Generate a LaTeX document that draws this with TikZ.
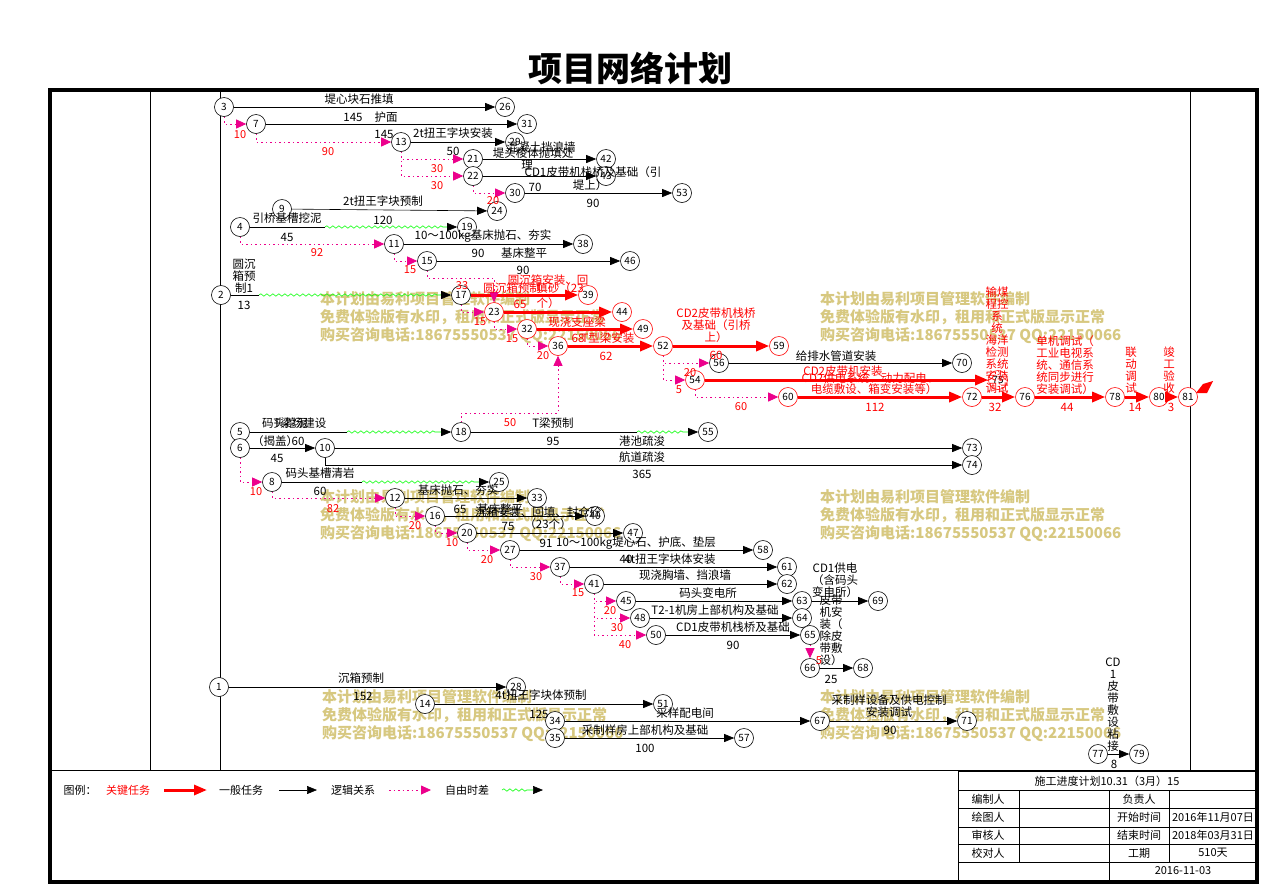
\documentclass[tikz,border=0pt]{standalone}
\usepackage{fontspec}
\setmainfont{Noto Sans CJK SC}
\usetikzlibrary{arrows.meta}
\usetikzlibrary{decorations.pathmorphing}
\definecolor{wmcol}{RGB}{215,200,128}

\begin{document}
\begin{tikzpicture}[x=1pt,y=-1pt,
					evnode/.style={circle, draw=black, line width=0.6pt, fill=white, inner sep=0pt, minimum size=19pt, font=\fontsize{10}{10}\selectfont},
					crnode/.style={evnode, draw=red},
					lbl/.style={inner sep=0pt, align=center, font=\fontsize{11.5}{12}\selectfont},
					rlbl/.style={lbl, text=red},
					flt/.style={inner sep=0pt, text=red, font=\fontsize{11}{12}\selectfont},
					wmark/.style={inner sep=0pt, anchor=north west, align=left, text=wmcol, font=\fontsize{15}{18}\selectfont\bfseries},
					cell/.style={inner sep=0pt, font=\fontsize{11}{12}\selectfont},
					taskline/.style={draw=black, line width=0.6pt, -{Triangle[length=10pt,width=8pt]}},
					critline/.style={draw=red, line width=3pt, -{Triangle[length=13pt,width=10pt]}},
					logicline/.style={draw=magenta, line width=0.8pt, dash pattern=on 1.5pt off 3pt, -{Triangle[length=10pt,width=9pt,color=magenta]}},
					floatline/.style={draw=green, line width=0.6pt, decorate, decoration={snake, amplitude=1.2pt, segment length=6pt, post length=14pt}, -{Triangle[length=10pt,width=8pt,color=black]}},
					]
					\fill[white] (0,0) rectangle (1263,887);
					\useasboundingbox (0,0) rectangle (1263,887);

					%Title and frame
					\node[font=\fontsize{34}{36}\selectfont\bfseries] (title) at (630,68) {项目网络计划};
					\draw[line width=0.8pt] (150,90) -- (150,770);
					\draw[line width=0.8pt] (220,90) -- (220,770);
					\draw[line width=0.8pt] (1190,90) -- (1190,770);
					\draw[line width=0.8pt] (50,770) -- (1257,770);
					\draw[line width=4pt] (50,90) rectangle (1257,882);

					%Watermarks
					\foreach \wx/\wy [count=\i] in {320/291, 820/291, 320/489, 820/489, 322/689, 820/689}
						\node[wmark] (wm\i) at (\wx,\wy) {本计划由易利项目管理软件编制\\免费体验版有水印，租用和正式版显示正常\\购买咨询电话:18675550537 QQ:22150066};

					%Nodes
					\node[evnode] (n3)  at (224,107) {3};
					\node[evnode] (n26) at (505,107) {26};
					\node[evnode] (n7)  at (256,124) {7};
					\node[evnode] (n31) at (527,124) {31};
					\node[evnode] (n13) at (401,142) {13};
					\node[evnode] (n29) at (515,142) {29};
					\node[evnode] (n21) at (473,159) {21};
					\node[evnode] (n42) at (606,159) {42};
					\node[evnode] (n22) at (473,176) {22};
					\node[evnode] (n43) at (606,176) {43};
					\node[evnode] (n30) at (515,193) {30};
					\node[evnode] (n53) at (682,193) {53};
					\node[evnode] (n9)  at (282,209) {9};
					\node[evnode] (n24) at (497,211) {24};
					\node[evnode] (n4)  at (240,227) {4};
					\node[evnode] (n19) at (467,227) {19};
					\node[evnode] (n11) at (394,244) {11};
					\node[evnode] (n38) at (583,244) {38};
					\node[evnode] (n15) at (427,261) {15};
					\node[evnode] (n46) at (630,261) {46};
					\node[evnode] (n2)  at (221,295) {2};
					\node[evnode] (n17) at (461,295) {17};
					\node[crnode] (n39) at (588,295) {39};
					\node[crnode] (n23) at (494,312) {23};
					\node[crnode] (n44) at (622,312) {44};
					\node[crnode] (n32) at (527,329) {32};
					\node[crnode] (n49) at (643,329) {49};
					\node[crnode] (n36) at (558,346) {36};
					\node[crnode] (n52) at (663,346) {52};
					\node[crnode] (n59) at (779,346) {59};
					\node[evnode] (n56) at (719,363) {56};
					\node[evnode] (n70) at (962,363) {70};
					\node[crnode] (n54) at (695,380) {54};
					\node[crnode] (n75) at (998,380) {75};
					\node[crnode] (n60) at (788,397) {60};
					\node[crnode] (n72) at (972,397) {72};
					\node[crnode] (n76) at (1025,397) {76};
					\node[crnode] (n78) at (1115,397) {78};
					\node[crnode] (n80) at (1159,397) {80};
					\fill[red] (1196,393) -- (1203,384) -- (1213,381) -- (1207,393) -- cycle;
					\node[crnode] (n81) at (1188,397) {81};
					\node[evnode] (n5)  at (240,432) {5};
					\node[evnode] (n18) at (461,432) {18};
					\node[evnode] (n55) at (708,432) {55};
					\node[evnode] (n6)  at (240,448) {6};
					\node[evnode] (n10) at (325,448) {10};
					\node[evnode] (n73) at (972,448) {73};
					\node[evnode] (n74) at (972,465) {74};
					\node[evnode] (n8)  at (272,482) {8};
					\node[evnode] (n25) at (499,482) {25};
					\node[evnode] (n12) at (395,498) {12};
					\node[evnode] (n33) at (537,498) {33};
					\node[evnode] (n16) at (435,516) {16};
					\node[evnode] (n40) at (595,516) {40};
					\node[evnode] (n20) at (467,533) {20};
					\node[evnode] (n47) at (633,533) {47};
					\node[evnode] (n27) at (510,550) {27};
					\node[evnode] (n58) at (763,550) {58};
					\node[evnode] (n37) at (560,567) {37};
					\node[evnode] (n61) at (787,567) {61};
					\node[evnode] (n41) at (594,584) {41};
					\node[evnode] (n62) at (787,584) {62};
					\node[evnode] (n45) at (626,601) {45};
					\node[evnode] (n63) at (802,601) {63};
					\node[evnode] (n69) at (878,601) {69};
					\node[evnode] (n48) at (640,618) {48};
					\node[evnode] (n64) at (802,618) {64};
					\node[evnode] (n50) at (656,635) {50};
					\node[evnode] (n65) at (810,635) {65};
					\node[evnode] (n66) at (810,668) {66};
					\node[evnode] (n68) at (863,668) {68};
					\node[evnode] (n1)  at (219,687) {1};
					\node[evnode] (n28) at (516,687) {28};
					\node[evnode] (n14) at (425,704) {14};
					\node[evnode] (n51) at (663,704) {51};
					\node[evnode] (n34) at (555,721) {34};
					\node[evnode] (n67) at (820,721) {67};
					\node[evnode] (n71) at (967,721) {71};
					\node[evnode] (n35) at (555,738) {35};
					\node[evnode] (n57) at (744,738) {57};
					\node[evnode] (n77) at (1098,754) {77};
					\node[evnode] (n79) at (1139,754) {79};

					%Bend points
					\coordinate (w2)  at (259,295);
					\coordinate (w4)  at (325,227);
					\coordinate (w5)  at (347,432);
					\coordinate (w18) at (637,432);
					\coordinate (w8)  at (362,482);
					\coordinate (b15) at (494,278);
					\coordinate (b18) at (558,413);

					%Lines
					\draw[taskline] (n3) -- (n26);
					\draw[taskline] (n7) -- (n31);
					\draw[taskline] (n13) -- (n29);
					\draw[taskline] (n21) -- (n42);
					\draw[taskline] (n22) -- (n43);
					\draw[taskline] (n30) -- (n53);
					\draw[taskline] (n9) -- (n24);
					\draw[taskline,-] (n4) -- (w4);
					\draw[floatline] (w4) -- (n19);
					\draw[taskline] (n11) -- (n38);
					\draw[taskline] (n15) -- (n46);
					\draw[taskline,-] (n2) -- (w2);
					\draw[floatline] (w2) -- (n17);
					\draw[critline] (n17) -- (n39);
					\draw[critline] (n23) -- (n44);
					\draw[critline] (n32) -- (n49);
					\draw[critline] (n36) -- (n52);
					\draw[critline] (n52) -- (n59);
					\draw[taskline] (n56) -- (n70);
					\draw[critline] (n54) -- (n75);
					\draw[critline] (n60) -- (n72);
					\draw[critline] (n72) -- (n76);
					\draw[critline] (n76) -- (n78);
					\draw[critline] (n78) -- (n80);
					\draw[critline] (n80) -- (n81);
					\draw[taskline,-] (n5) -- (w5);
					\draw[floatline] (w5) -- (n18);
					\draw[taskline,-] (n18) -- (w18);
					\draw[floatline] (w18) -- (n55);
					\draw[taskline] (n6) -- (n10);
					\draw[taskline] (n10) -- (n73);
					\draw[taskline] (n10) |- (n74);
					\draw[taskline,-] (n8) -- (w8);
					\draw[floatline] (w8) -- (n25);
					\draw[taskline] (n12) -- (n33);
					\draw[taskline] (n16) -- (n40);
					\draw[taskline] (n20) -- (n47);
					\draw[taskline] (n27) -- (n58);
					\draw[taskline] (n37) -- (n61);
					\draw[taskline] (n41) -- (n62);
					\draw[taskline] (n45) -- (n63);
					\draw[taskline] (n63) -- (n69);
					\draw[taskline] (n48) -- (n64);
					\draw[taskline] (n50) -- (n65);
					\draw[taskline] (n66) -- (n68);
					\draw[taskline] (n1) -- (n28);
					\draw[taskline] (n14) -- (n51);
					\draw[taskline] (n34) -- (n67);
					\draw[taskline] (n35) -- (n57);
					\draw[taskline] (n67) -- (n71);
					\draw[taskline] (n77) -- (n79);

					\draw[logicline] (n3) |- (n7);
					\draw[logicline] (n7) |- (n13);
					\draw[logicline] (n13) |- (n21);
					\draw[logicline] (n13) |- (n22);
					\draw[logicline] (n22) |- (n30);
					\draw[logicline] (n4) |- (n11);
					\draw[logicline] (n11) |- (n15);
					\draw[logicline] (n15) |- (b15) -- (n23);
					\draw[logicline] (n17) |- (n23);
					\draw[logicline] (n23) |- (n32);
					\draw[logicline] (n32) |- (n36);
					\draw[logicline] (n18) |- (b18) -- (n36);
					\draw[logicline] (n52) |- (n56);
					\draw[logicline] (n52) |- (n54);
					\draw[logicline] (n54) |- (n60);
					\draw[logicline] (n6) |- (n8);
					\draw[logicline] (n8) |- (n12);
					\draw[logicline] (n12) |- (n16);
					\draw[logicline] (n16) |- (n20);
					\draw[logicline] (n20) |- (n27);
					\draw[logicline] (n27) |- (n37);
					\draw[logicline] (n37) |- (n41);
					\draw[logicline] (n41) |- (n45);
					\draw[logicline] (n41) |- (n48);
					\draw[logicline] (n41) |- (n50);
					\draw[logicline] (n65) -- (n66);

					%Labels
					\node[lbl] (l3)   at (359,99)  {堤心块石推填};
					\node[lbl] (d3)   at (353,117) {145};
					\node[lbl] (l7)   at (386,117) {护面};
					\node[lbl] (d7)   at (384,134) {145};
					\node[lbl] (l13)  at (453,133) {2t扭王字块安装};
					\node[lbl] (d13)  at (453,151) {50};
					\node[lbl] (l21a) at (541,147) {混凝土挡浪墙};
					\node[lbl] (l21b) at (533,153) {堤头棱体抛填处};
					\node[lbl] (l21c) at (527,165) {理};
					\node[lbl] (l22a) at (593,172) {CD1皮带机栈桥及基础（引};
					\node[lbl] (l22b) at (590,185) {堤上）};
					\node[lbl] (d22)  at (535,187) {70};
					\node[lbl] (d30)  at (593,203) {90};
					\node[lbl] (l9)   at (383,201) {2t扭王字块预制};
					\node[lbl] (d9)   at (383,220) {120};
					\node[lbl] (l4)   at (287,218) {引桥基槽挖泥};
					\node[lbl] (d4)   at (287,237) {45};
					\node[lbl] (l11)  at (483,236) {10～100kg基床抛石、夯实};
					\node[lbl] (d11)  at (478,253) {90};
					\node[lbl] (l15)  at (524,253) {基床整平};
					\node[lbl] (d15)  at (523,270) {90};
					\node[lbl] (l2)   at (244,276) {圆沉\\箱预\\制1};
					\node[lbl] (d2)   at (244,305) {13};
					\node[rlbl] (l17a) at (548,280) {圆沉箱安装、回};
					\node[rlbl] (l17b) at (512,288) {圆沉箱预制};
					\node[rlbl] (l17c) at (560,288) {填砂（23};
					\node[rlbl] (l17d) at (548,303) {个）};
					\node[rlbl] (d17)  at (520,304) {65};
					\node[rlbl] (l23)  at (577,322) {现浇支座梁};
					\node[rlbl] (l32)  at (608,338) {T型梁安装};
					\node[rlbl] (d32)  at (578,338) {68};
					\node[rlbl] (d36)  at (606,356) {62};
					\node[rlbl] (l52)  at (716,325) {CD2皮带机栈桥\\及基础（引桥\\上）};
					\node[rlbl] (d52)  at (716,355) {60};
					\node[lbl] (l56)   at (836,356) {给排水管道安装};
					\node[rlbl] (l54a) at (843,371) {CD2皮带机安装};
					\node[rlbl] (l54b) at (870,378) {CD2供电系统、动力配电、};
					\node[rlbl] (l54c) at (874,389) {电缆敷设、箱变安装等）};
					\node[rlbl] (d60)  at (875,407) {112};
					\node[rlbl] (l72)  at (997,340) {输煤\\程控\\系\\统\\海洋\\检测\\系统\\安装\\调试};
					\node[rlbl] (d72)  at (995,407) {32};
					\node[rlbl] (l76)  at (1065,365) {单机调试（\\工业电视系\\统、通信系\\统同步进行\\安装调试）};
					\node[rlbl] (d76)  at (1067,407) {44};
					\node[rlbl] (l78)  at (1131,370) {联\\动\\调\\试};
					\node[rlbl] (d78)  at (1135,407) {14};
					\node[rlbl] (l80)  at (1169,370) {竣\\工\\验\\收};
					\node[rlbl] (d80)  at (1171,407) {3};
					\node[lbl] (l5a)  at (285,423) {码头挖泥};
					\node[lbl] (l5b)  at (300,423) {T梁场建设};
					\node[lbl] (l5c)  at (275,441) {（揭盖）};
					\node[lbl] (d5)   at (298,441) {60};
					\node[lbl] (l18)  at (553,423) {T梁预制};
					\node[lbl] (d18)  at (553,441) {95};
					\node[lbl] (d6)   at (277,458) {45};
					\node[lbl] (l10a) at (642,441) {港池疏浚};
					\node[lbl] (l10b) at (642,457) {航道疏浚};
					\node[lbl] (d10)  at (642,474) {365};
					\node[lbl] (l8)   at (320,473) {码头基槽清岩};
					\node[lbl] (d8)   at (320,491) {60};
					\node[lbl] (l12)  at (458,490) {基床抛石、夯实};
					\node[lbl] (d12)  at (460,509) {65};
					\node[lbl] (l16a) at (500,509) {基床整平};
					\node[lbl] (l16b) at (538,512) {沉箱安装、回填、封仓砼};
					\node[lbl] (l16c) at (548,524) {（23个）};
					\node[lbl] (d16)  at (508,526) {75};
					\node[lbl] (d20)  at (546,543) {91};
					\node[lbl] (l27)  at (636,543) {10～100kg堤心石、护底、垫层};
					\node[lbl] (d27)  at (626,559) {40};
					\node[lbl] (l37)  at (670,559) {4t扭王字块体安装};
					\node[lbl] (l41)  at (685,575) {现浇胸墙、挡浪墙};
					\node[lbl] (l45)  at (708,593) {码头变电所};
					\node[lbl] (l48)  at (715,610) {T2-1机房上部机构及基础};
					\node[lbl] (l50)  at (733,627) {CD1皮带机栈桥及基础};
					\node[lbl] (d50)  at (733,645) {90};
					\node[lbl] (l63)  at (835,580) {CD1供电\\（含码头\\变电所）};
					\node[lbl] (l66)  at (831,630) {皮带\\机安\\装（\\除皮\\带敷\\设）};
					\node[lbl] (d66)  at (831,679) {25};
					\node[lbl] (l1)   at (361,678) {沉箱预制};
					\node[lbl] (d1)   at (363,696) {152};
					\node[lbl] (l14)  at (541,695) {4t扭王字块体预制};
					\node[lbl] (d14)  at (539,714) {125};
					\node[lbl] (l34)  at (685,713) {采样配电间};
					\node[lbl] (l35)  at (645,730) {采制样房上部机构及基础};
					\node[lbl] (d35)  at (645,748) {100};
					\node[lbl] (l67)  at (889,706) {采制样设备及供电控制\\安装调试};
					\node[lbl] (d67)  at (890,730) {90};
					\node[lbl] (l77)  at (1113,705) {CD\\1\\皮\\带\\敷\\设\\粘\\接};
					\node[lbl] (d77)  at (1114,764) {8};

					%Free float values
					\node[flt] (f37)   at (240,135) {10};
					\node[flt] (f713)  at (328,152) {90};
					\node[flt] (f1321) at (437,169) {30};
					\node[flt] (f1322) at (437,186) {30};
					\node[flt] (f2230) at (493,201) {20};
					\node[flt] (f411)  at (317,253) {92};
					\node[flt] (f1115) at (410,270) {15};
					\node[flt] (f1523) at (462,286) {33};
					\node[flt] (f1723) at (480,322) {15};
					\node[flt] (f2332) at (512,339) {15};
					\node[flt] (f3236) at (543,356) {20};
					\node[flt] (f1836) at (510,423) {50};
					\node[flt] (f5256) at (690,373) {20};
					\node[flt] (f5254) at (679,390) {5};
					\node[flt] (f5460) at (741,407) {60};
					\node[flt] (f68)   at (256,492) {10};
					\node[flt] (f812)  at (333,509) {82};
					\node[flt] (f1216) at (415,526) {20};
					\node[flt] (f1620) at (452,543) {10};
					\node[flt] (f2027) at (487,560) {20};
					\node[flt] (f2737) at (536,577) {30};
					\node[flt] (f3741) at (578,593) {15};
					\node[flt] (f4145) at (610,611) {20};
					\node[flt] (f4148) at (617,628) {30};
					\node[flt] (f4150) at (625,645) {40};
					\node[flt] (f6566) at (819,661) {5};

					%Legend
					\node[cell] (lg0) at (80,790) {图例：};
					\node[cell,text=red] (lg1) at (128,790) {关键任务};
					\coordinate (lg1a) at (164,790);
					\coordinate (lg1b) at (207,790);
					\draw[critline] (lg1a) -- (lg1b);
					\node[cell] (lg2) at (241,790) {一般任务};
					\coordinate (lg2a) at (279,790);
					\coordinate (lg2b) at (317,790);
					\draw[taskline] (lg2a) -- (lg2b);
					\node[cell] (lg3) at (353,790) {逻辑关系};
					\coordinate (lg3a) at (389,790);
					\coordinate (lg3b) at (431,790);
					\draw[logicline] (lg3a) -- (lg3b);
					\node[cell] (lg4) at (467,790) {自由时差};
					\coordinate (lg4a) at (502,790);
					\coordinate (lg4b) at (543,790);
					\draw[floatline] (lg4a) -- (lg4b);

					%Title block
					\draw[line width=0.8pt] (958,771) rectangle (1257,882);
					\foreach \ry in {790,808,827,844,862}
						\draw[line width=0.8pt] (958,\ry) -- (1257,\ry);
					\foreach \cx in {1019,1109,1169}
						\draw[line width=0.8pt] (\cx,790) -- (\cx,862);
					\draw[line width=0.8pt] (1109,862) -- (1109,882);
					\node[cell] (tb0) at (1107,781) {施工进度计划10.31（3月）15};
					\node[cell] (tb1) at (988,799) {编制人};
					\node[cell] (tb2) at (988,817) {绘图人};
					\node[cell] (tb3) at (988,835) {审核人};
					\node[cell] (tb4) at (988,853) {校对人};
					\node[cell] (tb5) at (1139,799) {负责人};
					\node[cell] (tb6) at (1139,817) {开始时间};
					\node[cell] (tb7) at (1139,835) {结束时间};
					\node[cell] (tb8) at (1139,853) {工期};
					\node[cell] (tb9) at (1213,817) {2016年11月07日};
					\node[cell] (tb10) at (1213,835) {2018年03月31日};
					\node[cell] (tb11) at (1213,853) {510天};
					\node[cell] (tb12) at (1183,871) {2016-11-03};
				\end{tikzpicture}
\end{document}
